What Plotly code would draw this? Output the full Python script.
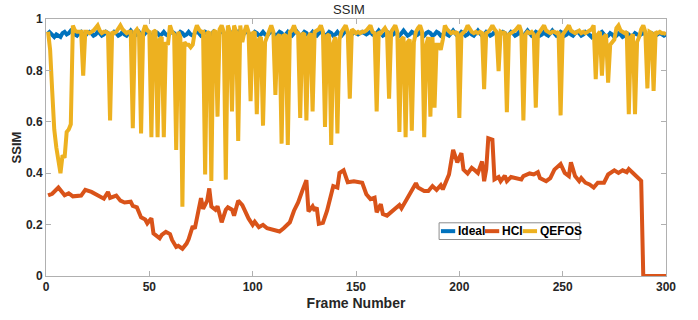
import plotly.graph_objects as go

frames = list(range(1, 301))

ideal = [
0.955,0.945,0.935,0.93,0.94,0.935,0.93,0.945,0.95,0.94,0.945,0.955,0.95,0.94,0.935,0.945,0.95,0.94,0.935,0.945,
0.95,0.945,0.935,0.94,0.95,0.945,0.935,0.94,0.95,0.945,0.935,0.94,0.95,0.945,0.935,0.94,0.95,0.94,0.935,0.945,
0.955,0.945,0.935,0.94,0.95,0.94,0.935,0.945,0.955,0.945,0.935,0.94,0.95,0.945,0.935,0.94,0.95,0.94,0.935,0.945,
0.95,0.945,0.935,0.94,0.95,0.945,0.935,0.94,0.95,0.94,0.935,0.945,0.955,0.945,0.935,0.94,0.95,0.945,0.935,0.94,
0.95,0.94,0.935,0.945,0.955,0.945,0.935,0.94,0.95,0.945,0.935,0.94,0.95,0.94,0.935,0.945,0.95,0.945,0.935,0.94,
0.95,0.945,0.935,0.94,0.95,0.94,0.935,0.945,0.955,0.945,0.935,0.94,0.95,0.945,0.935,0.94,0.95,0.94,0.935,0.945,
0.955,0.945,0.935,0.94,0.95,0.945,0.935,0.94,0.95,0.94,0.935,0.945,0.95,0.945,0.935,0.94,0.95,0.945,0.935,0.94,
0.95,0.94,0.935,0.945,0.955,0.945,0.935,0.94,0.95,0.945,0.94,0.945,0.95,0.945,0.94,0.945,0.95,0.94,0.935,0.945,
0.955,0.945,0.935,0.94,0.95,0.945,0.935,0.94,0.95,0.94,0.935,0.945,0.955,0.945,0.935,0.94,0.95,0.945,0.935,0.94,
0.95,0.94,0.935,0.945,0.95,0.945,0.935,0.94,0.95,0.945,0.935,0.94,0.95,0.94,0.935,0.945,0.955,0.945,0.935,0.94,
0.95,0.945,0.935,0.94,0.95,0.94,0.935,0.945,0.955,0.945,0.935,0.94,0.95,0.945,0.935,0.94,0.95,0.94,0.935,0.945,
0.95,0.945,0.935,0.94,0.95,0.945,0.935,0.94,0.95,0.94,0.935,0.945,0.955,0.945,0.935,0.94,0.95,0.945,0.935,0.94,
0.95,0.94,0.935,0.945,0.955,0.945,0.935,0.94,0.95,0.945,0.935,0.94,0.95,0.94,0.935,0.945,0.95,0.945,0.935,0.94,
0.95,0.945,0.935,0.93,0.94,0.935,0.93,0.945,0.95,0.94,0.93,0.935,0.945,0.94,0.93,0.935,0.945,0.94,0.93,0.935,
0.945,0.94,0.93,0.935,0.945,0.94,0.935,0.94,0.945,0.94,0.935,0.94,0.945,0.94,0.935,0.94,0.945,0.94,0.935,0.94,
]

qefos = [
0.95,0.88,0.72,0.57,0.50,0.45,0.40,0.47,0.46,0.56,0.57,0.59,0.975,0.955,0.95,0.95,0.95,0.78,0.95,0.95,
0.945,0.95,0.955,0.965,0.975,0.955,0.945,0.95,0.95,0.945,0.605,0.95,0.945,0.95,0.96,0.975,0.96,0.95,0.945,0.95,
0.95,0.575,0.95,0.96,0.945,0.555,0.95,0.975,0.955,0.95,0.54,0.95,0.955,0.54,0.92,0.93,0.54,0.91,0.90,0.975,
0.95,0.94,0.49,0.95,0.93,0.27,0.91,0.90,0.90,0.89,0.90,0.95,0.975,0.96,0.95,0.95,0.395,0.945,0.95,0.37,
0.95,0.955,0.62,0.96,0.975,0.95,0.375,0.975,0.95,0.64,0.975,0.95,0.525,0.975,0.91,0.95,0.975,0.95,0.68,0.945,
0.95,0.63,0.92,0.93,0.585,0.91,0.93,0.945,0.975,0.95,0.705,0.93,0.94,0.515,0.935,0.94,0.51,0.95,0.955,0.975,
0.95,0.945,0.615,0.945,0.94,0.605,0.93,0.945,0.64,0.95,0.955,0.96,0.975,0.95,0.58,0.935,0.94,0.51,0.905,0.93,
0.555,0.92,0.95,0.965,0.975,0.95,0.69,0.96,0.95,0.945,0.95,0.945,0.95,0.95,0.955,0.965,0.975,0.95,0.945,0.64,
0.95,0.945,0.955,0.965,0.95,0.69,0.95,0.965,0.975,0.95,0.56,0.92,0.93,0.54,0.91,0.92,0.565,0.91,0.95,0.965,
0.975,0.95,0.54,0.90,0.93,0.62,0.93,0.655,0.90,0.90,0.88,0.92,0.975,0.96,0.95,0.945,0.95,0.945,0.95,0.615,
0.94,0.95,0.955,0.975,0.96,0.95,0.945,0.95,0.945,0.95,0.945,0.727,0.945,0.95,0.96,0.975,0.96,0.95,0.797,0.95,
0.945,0.95,0.637,0.94,0.945,0.95,0.955,0.965,0.975,0.95,0.605,0.94,0.95,0.945,0.95,0.94,0.655,0.94,0.95,0.965,
0.975,0.955,0.95,0.945,0.95,0.95,0.945,0.95,0.625,0.94,0.95,0.965,0.975,0.955,0.95,0.945,0.95,0.955,0.945,0.95,
0.945,0.95,0.955,0.96,0.975,0.766,0.94,0.95,0.78,0.93,0.94,0.752,0.90,0.91,0.92,0.965,0.975,0.955,0.95,0.945,
0.95,0.63,0.93,0.94,0.63,0.91,0.93,0.96,0.975,0.95,0.73,0.95,0.945,0.72,0.95,0.945,0.95,0.945,0.945,0.94,
]

hci_frames = [1,3,6,9,11,13,17,19,22,25,28,30,31,34,36,38,41,42,44,46,48,49,51,52,55,56,58,60,61,63,64,66,68,69,71,72,74,75,76,78,79,80,82,83,85,87,88,90,91,93,95,97,98,100,101,103,105,107,110,113,115,118,120,122,124,126,127,129,130,131,132,134,136,137,139,141,142,144,146,149,153,155,157,159,160,162,163,165,167,169,171,172,175,179,180,183,185,187,189,191,192,195,197,198,199,201,202,204,206,208,209,211,212,213,214,216,217,219,220,222,223,225,227,230,231,234,236,238,239,242,244,246,249,251,253,254,256,258,259,261,263,265,267,270,272,275,277,279,281,282,284,287,288,289,300]
hci = [0.314,0.32,0.344,0.314,0.322,0.31,0.313,0.335,0.327,0.313,0.301,0.327,0.304,0.313,0.293,0.286,0.289,0.273,0.267,0.228,0.22,0.205,0.225,0.166,0.147,0.16,0.172,0.163,0.14,0.113,0.117,0.106,0.126,0.143,0.194,0.184,0.254,0.303,0.261,0.293,0.341,0.271,0.258,0.271,0.209,0.258,0.267,0.258,0.235,0.293,0.276,0.235,0.224,0.199,0.211,0.19,0.199,0.186,0.181,0.173,0.186,0.209,0.254,0.286,0.331,0.373,0.251,0.271,0.254,0.267,0.203,0.207,0.254,0.289,0.35,0.344,0.401,0.411,0.365,0.369,0.363,0.318,0.299,0.305,0.248,0.28,0.241,0.235,0.248,0.258,0.276,0.263,0.305,0.361,0.344,0.331,0.331,0.35,0.335,0.353,0.337,0.395,0.491,0.466,0.442,0.478,0.414,0.399,0.421,0.408,0.401,0.446,0.369,0.414,0.536,0.53,0.376,0.385,0.369,0.39,0.369,0.385,0.381,0.376,0.389,0.399,0.395,0.404,0.381,0.369,0.381,0.414,0.436,0.401,0.389,0.442,0.389,0.369,0.381,0.363,0.356,0.344,0.363,0.363,0.395,0.411,0.401,0.411,0.404,0.416,0.401,0.378,0.37,0.0,0.0]

series_names = ["Ideal", "HCI", "QEFOS"]
colors = ["#0072BD", "#D95319", "#EDB120"]
x_ticks = [0, 50, 100, 150, 200, 250, 300]
y_ticks = [0, 0.2, 0.4, 0.6, 0.8, 1]
y_tick_text = ["0", "0.2", "0.4", "0.6", "0.8", "1"]

FONT = "Liberation Sans, Arial, sans-serif"
LW = 4

fig = go.Figure()
fig.add_trace(go.Scatter(x=frames, y=ideal, mode="lines", name=series_names[0],
                         line=dict(color=colors[0], width=LW), showlegend=False))
fig.add_trace(go.Scatter(x=hci_frames, y=hci, mode="lines", name=series_names[1],
                         line=dict(color=colors[1], width=LW), showlegend=False))
fig.add_trace(go.Scatter(x=frames, y=qefos, mode="lines", name=series_names[2],
                         line=dict(color=colors[2], width=LW), showlegend=False))

axis_common = dict(showline=True, linecolor="#b0b0b0", linewidth=1, mirror="ticks",
                   ticks="inside", ticklen=5, tickcolor="#b0b0b0", showgrid=False,
                   zeroline=False,
                   tickfont=dict(family=FONT, size=12, color="#262626", weight="bold"))

fig.update_xaxes(range=[0, 300], tickvals=x_ticks, **axis_common,
                 title=dict(text="Frame Number", standoff=4,
                            font=dict(family=FONT, size=14, color="#262626", weight="bold")))
fig.update_yaxes(range=[0, 1], tickvals=y_ticks, ticktext=y_tick_text, **axis_common,
                 title=dict(text="SSIM", standoff=1,
                            font=dict(family=FONT, size=13, color="#262626", weight="bold")))

# legend (drawn manually, MATLAB-style compact)
shapes = [dict(type="rect", xref="paper", yref="paper", x0=0.634, x1=0.861, y0=0.142, y1=0.207,
               line=dict(color="#8c8c8c", width=1), fillcolor="white", layer="above")]
leg_lines = [(0.637, 0.660), (0.708, 0.731), (0.769, 0.792)]
leg_text_x = [0.661, 0.732, 0.794]
annotations = []
for (a, b), c, tx, nm in zip(leg_lines, colors, leg_text_x, series_names):
    shapes.append(dict(type="line", xref="paper", yref="paper", x0=a, x1=b, y0=0.1745, y1=0.1745,
                       line=dict(color=c, width=LW), layer="above"))
    annotations.append(dict(xref="paper", yref="paper", x=tx, y=0.1745, text=nm, showarrow=False,
                            xanchor="left", yanchor="middle",
                            font=dict(family=FONT, size=12, color="#000000", weight="bold")))

fig.update_layout(
    width=698, height=320,
    margin=dict(l=46, r=32, t=17, b=42),
    paper_bgcolor="white", plot_bgcolor="white",
    title=dict(text="SSIM", x=0.5, xanchor="center", y=0.972, yref="container", yanchor="middle",
               font=dict(family=FONT, size=13, color="#262626")),
    shapes=shapes, annotations=annotations,
)

fig.write_html("out.html", config={"displayModeBar": False},
               post_script="document.body.style.margin='0';document.body.style.padding='0';document.body.style.overflow='hidden';")
